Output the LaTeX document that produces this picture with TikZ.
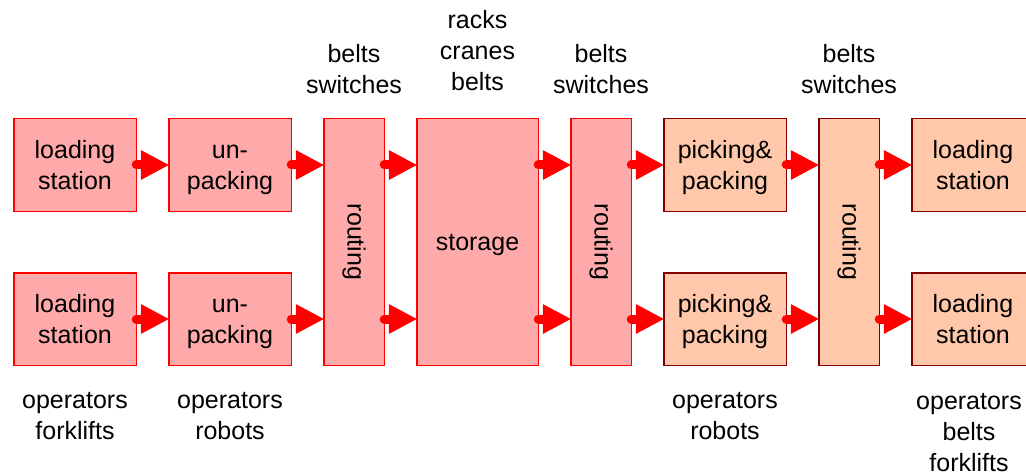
\documentclass[tikz,border=0pt]{standalone}
\usepackage{fontspec}
\setmainfont{Liberation Sans}
\usetikzlibrary{arrows.meta,positioning}
\definecolor{boxred}{RGB}{255,170,170}
\definecolor{boxorange}{RGB}{255,200,170}
\definecolor{darkborder}{RGB}{130,0,0}
\newcommand{\bs}{\vrule height 24pt depth 6pt width 0pt}
\tikzset{
  stage/.style={draw=red, fill=boxred, line width=1.5pt, minimum width=122.5pt,
    minimum height=92.5pt, align=center, inner sep=0pt, outer sep=0pt},
  outstage/.style={stage, draw=darkborder, fill=boxorange},
  tall/.style={minimum width=60.5pt, minimum height=246.5pt},
  flow/.style={draw=red, line width=9pt, line cap=round,
    -{Triangle[length=28pt,width=30pt,line width=0pt]}},
  note/.style={align=center, inner sep=0pt},
  node distance=61.5pt and 32.5pt,
}
\begin{document}
\begin{tikzpicture}[font=\fontsize{25}{31}\selectfont]
\useasboundingbox (0,0) rectangle (1026pt,-476pt);
\node[stage] (ls1) at (75pt,-165pt) {\bs loading\\station\bs};
\node[stage, below=of ls1] (ls2) {\bs loading\\station\bs};
\node[stage, right=of ls1] (up1) {\bs un-\\packing\bs};
\node[stage, right=of ls2] (up2) {\bs un-\\packing\bs};
\node[stage, tall, right=of up1.north east, anchor=north west,
  label={[rotate=-90]center:routing}] (r1) {};
\node[stage, tall, minimum width=121.5pt, right=of r1] (st) {\bs storage};
\node[stage, tall, right=of st, label={[rotate=-90]center:routing}] (r2) {};
\node[outstage, right=of r2.north east, anchor=north west] (pp1) {\bs picking\&\\packing\bs};
\node[outstage, below=of pp1] (pp2) {\bs picking\&\\packing\bs};
\node[outstage, tall, right=of pp1.north east, anchor=north west,
  label={[rotate=-90]center:routing}] (r3) {};
\node[outstage, right=of r3.north east, anchor=north west] (ls3) {\bs loading\\station\bs};
\node[outstage, below=of ls3] (ls4) {\bs loading\\station\bs};
\node[note, above=25pt of r1] (n1) {belts\\switches};
\node[note, above=28pt of st] (n2) {racks\\cranes\\belts};
\node[note, above=25pt of r2] (n3) {belts\\switches};
\node[note, above=25pt of r3] (n4) {belts\\switches};
\node[note, below=27pt of ls2] (n5) {operators\\forklifts};
\node[note, below=27pt of up2] (n6) {operators\\robots};
\node[note, below=27pt of pp2] (n7) {operators\\robots};
\node[note, below=28pt of ls4, xshift=-4pt] (n8) {operators\\belts\\forklifts};
\draw[flow] (ls1) -- (up1);
\draw[flow] (ls2) -- (up2);
\draw[flow] (up1) -- (up1 -| r1.west);
\draw[flow] (up2) -- (up2 -| r1.west);
\draw[flow] (r1.east |- up1) -- (st.west |- up1);
\draw[flow] (r1.east |- up2) -- (st.west |- up2);
\draw[flow] (st.east |- up1) -- (r2.west |- up1);
\draw[flow] (st.east |- up2) -- (r2.west |- up2);
\draw[flow] (r2.east |- pp1) -- (pp1);
\draw[flow] (r2.east |- pp2) -- (pp2);
\draw[flow] (pp1) -- (pp1 -| r3.west);
\draw[flow] (pp2) -- (pp2 -| r3.west);
\draw[flow] (r3.east |- ls3) -- (ls3);
\draw[flow] (r3.east |- ls4) -- (ls4);
\end{tikzpicture}
\end{document}
